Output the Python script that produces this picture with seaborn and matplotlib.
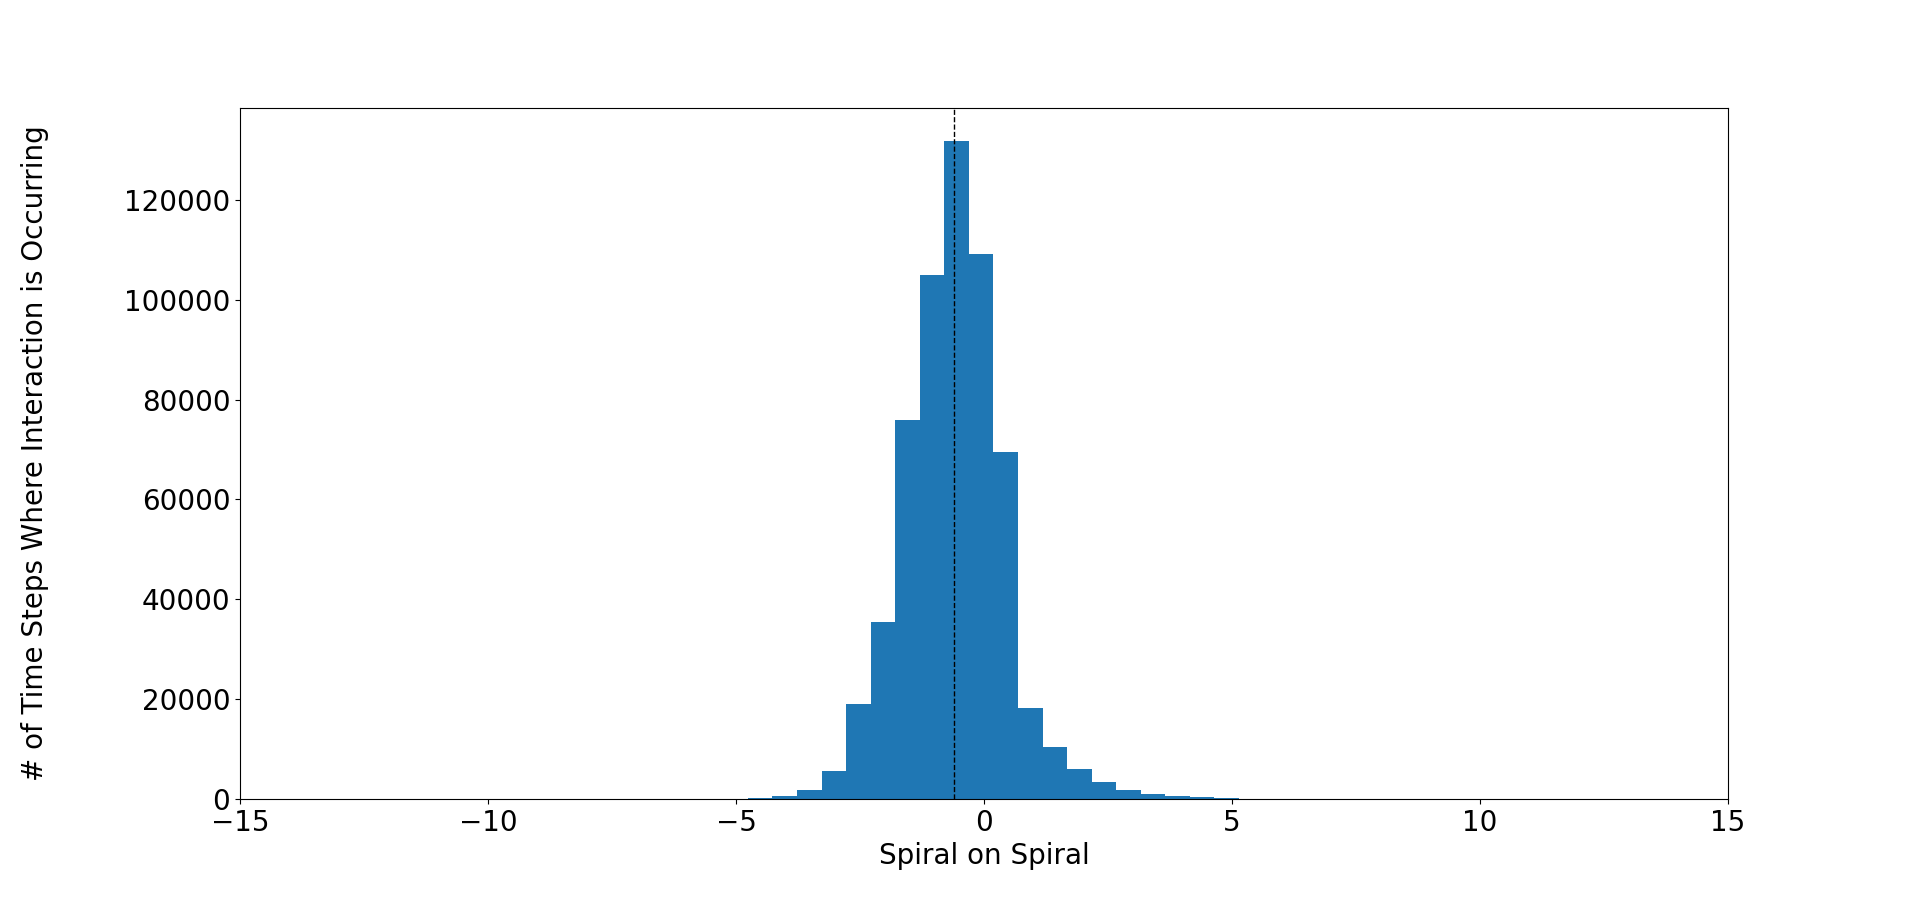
from matplotlib import pyplot as plt
import numpy as np
import pandas as pd
import seaborn as sb

# histogram
bin_edges = [-4.76, -4.265, -3.77, -3.275, -2.78, -2.285, -1.79, -1.295, -0.80, -0.305,
             0.19, 0.685, 1.18, 1.675, 2.17, 2.665, 3.16, 3.655, 4.15, 4.645, 5.14]
counts = [270, 670, 1850, 5650, 19050, 35400, 75900, 105000, 131800, 109200,
          69500, 18200, 10400, 6050, 3400, 1800, 960, 620, 430, 200]
mean_value = -0.6

centers = [(a + b) / 2 for a, b in zip(bin_edges[:-1], bin_edges[1:])]
df = pd.DataFrame({'value': centers, 'count': counts})

fig, ax = plt.subplots(figsize=(19.2, 8.98), dpi=100)
sb.histplot(data=df, x='value', weights='count', bins=bin_edges, ax=ax,
            color='#1f77b4', alpha=1, edgecolor='none', linewidth=0)
ax.axvline(mean_value, color='k', linestyle='--', linewidth=1)

ax.set_xlim(-15, 15)
ax.set_xlabel('Spiral on Spiral', fontsize=20)
ax.set_ylabel('# of Time Steps Where Interaction is Occurring', fontsize=20, labelpad=54)
ax.tick_params(labelsize=20)

plt.savefig('out.png', dpi=100)
